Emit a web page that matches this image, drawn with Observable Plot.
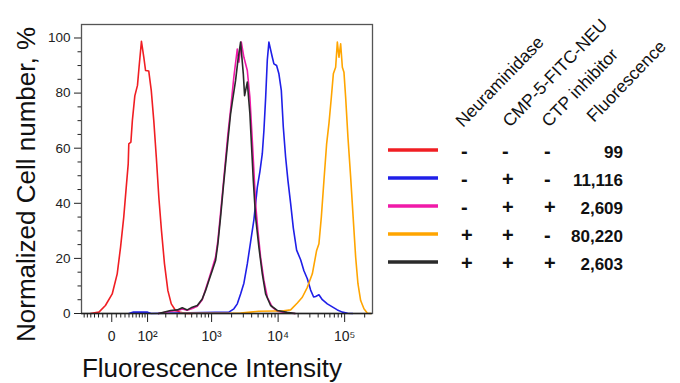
<!DOCTYPE html>
<html><head><meta charset="utf-8">
<script src="https://cdn.jsdelivr.net/npm/d3@7"></script>
<script src="https://cdn.jsdelivr.net/npm/@observablehq/plot@0.6"></script>
<style>
html,body{margin:0;padding:0;background:#fff;}
#wrap{position:relative;width:680px;height:383px;overflow:hidden;font-family:'Liberation Sans',Arial,sans-serif;}
#chart{position:absolute;left:0;top:0;}
#legend{position:absolute;left:0;top:0;}
</style></head>
<body><div id="wrap"><div id="chart"></div><svg id="legend" width="680" height="383"></svg></div>
<script>
// ---- data (fluorescence intensity, normalized cell number %) ----
const redX = [-51, -29, -14, 1, 12, 19.5, 27, 33, 38, 39.5, 45, 49, 56, 64, 69, 77, 85.5, 92, 105, 116, 128, 141, 155, 171, 191, 216, 244, 284, 339, 404, 520];
const redY = [0, 0.5, 2.9, 7.1, 14.4, 24, 35, 45.8, 54.3, 61.6, 62.2, 70, 79, 82.8, 89.4, 98.8, 93, 88.2, 88, 81, 70, 56.7, 42.2, 30.1, 18, 8.3, 3.5, 1.1, 0.4, 0, 0];

const blueX = [40, 52, 100, 115, 1820, 2164, 2435, 2730, 3060, 3443, 3860, 4325, 4867, 5325, 5786, 6118, 6486, 6880, 7273, 8181, 8648, 9493, 10280, 11170, 11975, 12970, 14045, 15420, 16930, 18975, 21800, 24430, 27480, 30820, 34190, 36640, 41070, 46200, 54920, 65310, 77670, 92350, 110970, 132000];
const blueY = [0, 0.5, 0.5, 0, 0.5, 1.7, 3.5, 7.1, 11, 18, 26, 34, 45.8, 51.5, 58, 66.4, 78, 92, 98.5, 93, 90.6, 90, 87, 81, 67.6, 56.7, 48.3, 40, 31, 23, 19.5, 15.5, 12.6, 8.5, 6.0, 6.2, 6.8, 5.0, 3.5, 2.4, 1.3, 0.5, 0.1, 0];

const magentaX = [153, 238, 302, 360, 429, 511, 608, 723, 811, 910, 1024, 1148, 1243, 1365, 1500, 1624, 1758, 1931, 2164, 2435, 2574, 2797, 3060, 3443, 3766, 4093, 4325, 4589, 4970, 5455, 6118, 6880, 8181, 9727, 13750, 18000];
const magentaY = [0, 0.8, 1.0, 1.6, 1.2, 1.8, 2.6, 5.0, 8.8, 12.5, 16.5, 20.5, 26.5, 36.5, 47, 56, 65, 74, 86, 96, 91.2, 98.5, 93, 88.2, 78.5, 62.8, 51.9, 39.8, 30.1, 20.4, 12, 5.9, 2.3, 0.8, 0.2, 0];

const orangeX = [339, 2730, 3860, 5093, 9171, 12100, 15420, 19440, 23110, 27480, 32680, 37930, 41070, 44620, 48840, 53610, 58060, 63100, 67640, 73240, 77670, 82100, 87060, 92350, 97600, 103500, 112100, 123100, 135100, 146400, 158500, 174000, 195100, 219500, 246000];
const orangeY = [0.1, 0.2, 0.5, 0.8, 0.9, 1.0, 1.3, 3.8, 5.9, 9.5, 14.4, 22.9, 25.3, 35, 48.3, 61.6, 68.9, 78.5, 87, 89.4, 98.5, 93, 97.9, 89.4, 87.6, 78.5, 64, 49.5, 33.8, 20.4, 10.8, 4.7, 1.7, 0.1, 0];

const blackX = [153, 238, 302, 360, 429, 511, 608, 723, 811, 910, 1024, 1148, 1243, 1365, 1500, 1624, 1758, 1931, 2048, 2296, 2486, 2730, 2998, 3134, 3443, 3766, 3995, 4238, 4589, 5146, 5786, 6486, 7713, 9727, 13750, 18000];
const blackY = [0, 1.1, 1.3, 2.1, 1.3, 2.3, 2.9, 5.3, 8.3, 12, 15.6, 19.2, 25.3, 35, 45.8, 54.3, 62.8, 72.5, 76.7, 84.6, 91.8, 98.5, 87, 79.1, 84, 72.5, 60.4, 48.3, 35, 24, 14.4, 7.1, 2.9, 1.1, 0.4, 0];

const seriesColors = ["#f01e23", "#1f1fe8", "#f01aa8", "#ffa500", "#2a2a2a"];

// axis ticks
const xMajor = [0, 100, 1000, 10000, 100000];
const xTickLabels = ["0", "10\u00B2", "10\u00B3", "10\u2074", "10\u2075"];
const xMinor = [-70, -60, -50, -40, -30, -20, -10, 10, 20, 30, 40, 50, 60, 70, 80, 90,
  200, 300, 400, 500, 600, 700, 800, 900, 2000, 3000, 4000, 5000, 6000, 7000, 8000, 9000,
  20000, 30000, 40000, 50000, 60000, 70000, 80000, 90000, 200000];
const yMajor = [0, 20, 40, 60, 80, 100];
const yMinor = [5, 10, 15, 25, 30, 35, 45, 50, 55, 65, 70, 75, 85, 90, 95];

// legend table
const neuraminidase = ["-", "-", "-", "+", "+"];
const cmp = ["-", "+", "+", "+", "+"];
const ctp = ["-", "-", "+", "-", "+"];
const fluorescence = ["99", "11,116", "2,609", "80,220", "2,603"];
const headers = ["Neuraminidase", "CMP-5-FITC-NEU", "CTP inhibitor", "Fluorescence"];

// ---- build ----
const xs = [redX, blueX, magentaX, orangeX, blackX];
const ys = [redY, blueY, magentaY, orangeY, blackY];
const series = xs.map((X, k) => X.map((x, i) => ({x, y: ys[k][i]})));

const W = 31.62;
const biex = v => Math.log10(W) + Math.asinh(v / (2 * W)) / Math.LN10;

const chart = Plot.plot({
  width: 380, height: 383,
  marginLeft: 81, marginRight: 8, marginTop: 24, marginBottom: 70,
  style: {fontFamily: "'Liberation Sans', Arial, sans-serif", fontSize: "13px", color: "#222", background: "#fff"},
  x: {type: "linear", transform: biex, domain: [biex(-79), biex(262144)]},
  y: {domain: [0, 104.9]},
  marks: [
    Plot.frame({stroke: "#555", strokeWidth: 1.3}),
    ...series.map((d, k) => Plot.line(d, {x: "x", y: "y", stroke: seriesColors[k], strokeWidth: 1.6})),
    Plot.ruleY([0], {stroke: "#222", strokeWidth: 1.3}),
    Plot.axisX(xMinor, {tickSize: 4.5, tickFormat: () => "", label: null, color: "#222"}),
    Plot.axisX(xMajor, {tickSize: 9, tickPadding: 9, tickFormat: (d, i) => xTickLabels[i], label: null, color: "#222", fontSize: 14}),
    Plot.axisY(yMinor, {tickSize: 3.5, tickFormat: () => "", label: null, color: "#222"}),
    Plot.axisY(yMajor, {tickSize: 7, tickPadding: 4, label: null, color: "#222", fontSize: 13.5}),
    Plot.text(["Normalized Cell number, %"], {text: d => d, frameAnchor: "left", textAnchor: "middle", rotate: -90, dx: -47, dy: 15.5, lineAnchor: "bottom", fontSize: 26, fill: "#111"}),
    Plot.text(["Fluorescence Intensity"], {text: d => d, frameAnchor: "bottom", textAnchor: "middle", dx: -15, dy: 63, lineAnchor: "bottom", fontSize: 26, fill: "#111"})
  ]
});
document.getElementById("chart").appendChild(chart);

// ---- legend ----
const lg = d3.select("#legend").style("font-family", "'Liberation Sans', Arial, sans-serif");
const rowY0 = 150, rowStep = 28;
const colX = [461, 502, 544];
seriesColors.forEach((c, i) => {
  const y = rowY0 + i * rowStep;
  lg.append("line").attr("x1", 388).attr("x2", 438).attr("y1", y).attr("y2", y)
    .attr("stroke", c).attr("stroke-width", 3.5);
  [neuraminidase, cmp, ctp].forEach((col, j) => {
    lg.append("text").attr("x", colX[j]).attr("y", y + 8)
      .attr("font-size", 20).attr("font-weight", "bold").attr("fill", "#111").text(col[i]);
  });
  lg.append("text").attr("x", 623).attr("y", y + 8).attr("text-anchor", "end")
    .attr("font-size", 17).attr("font-weight", "bold").attr("fill", "#111").text(fluorescence[i]);
});
const hx = [463, 510, 549, 594], hy = [128, 128, 128, 123];
headers.forEach((h, j) => {
  lg.append("text").attr("transform", `translate(${hx[j]},${hy[j]}) rotate(-46)`)
    .attr("font-size", 17.5).attr("fill", "#111").text(h);
});
</script>
</body></html>
